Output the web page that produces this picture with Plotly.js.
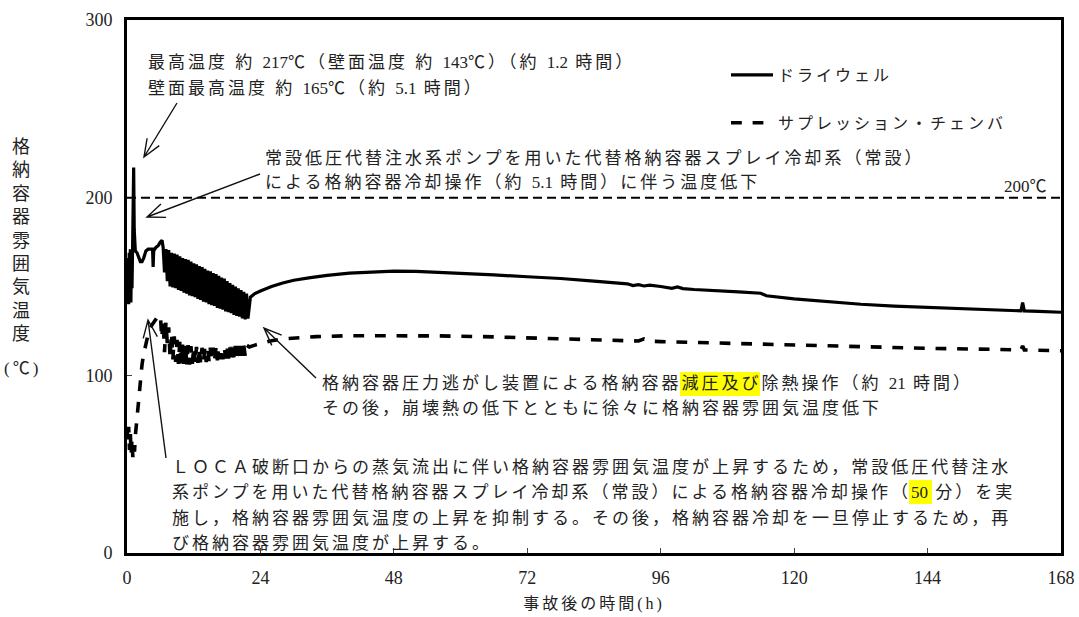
<!DOCTYPE html>
<html>
<head>
<meta charset="utf-8">
<script src="https://cdn.plot.ly/plotly-3.0.1.min.js"></script>
<style>
html,body{margin:0;padding:0;background:#fff}
#chart{width:1079px;height:617px}
.annotation-text,.legendtext,.xtitle{letter-spacing:3px}
</style>
</head>
<body>
<div id="chart"></div>
<script>

/* DATA (hours, degC) */

const dwStartT = [0,0.1,0.2,0.3,0.4,0.5,0.6,0.7,0.8,0.9,1.0,1.1,1.2,1.3,1.5,1.8,2.1,2.4,2.7,3.0,3.4,3.8,4.2,4.6,4.7,4.8,5.2,5.6,6.0,6.3]
const dwStartV = [152,141,166,140,169,144,171,141,167,149,171,190,217,182,170,169,166,164,164,166,170,171,171,171,161,170,172,173,175,176]

// drywell while the spray cycles on/off : peaks and troughs of the band
const dwPeakT = [6.5,7,7.5,8,8.5,9,9.5,10,10.5,11,11.5,12,12.5,13,13.5,14,14.5,15,15.5,16,16.5,17,17.5,18,18.5,19,19.5,20,20.5,21,21.5]
const dwPeakV = [172,171,170.5,169,168.5,168,167,166,165.5,165,164,163,162.5,161.5,161,160,159,158.5,157.5,157,156,155,154.5,153,152,151,150,149,148,147,146]
const dwLowT = [6.75,7.25,7.75,8.25,8.75,9.25,9.75,10.25,10.75,11.25,11.75,12.25,12.75,13.25,13.75,14.25,14.75,15.25,15.75,16.25,16.75,17.25,17.75,18.25,18.75,19.25,19.75,20.25,20.75,21.25]
const dwLowV = [158,153,150,149.5,149,148,147.5,146.5,146,145,144.5,144,143,142.5,141.5,141,140,139.5,139,138,137.5,137,136,135.5,135,134,133.5,133,132,131.5]

const dwLateT = [21.75,22.2,23,24,26,28,30,33,36,40,44,48,52,56,60,66,72,78,84,88,90,91,92,93,94,96,98,99,100,102,106,110,114,115,120,126,132,138,144,150,156,160.8,161.1,161.4,164,168]
const dwLateV = [132,144,146,147.5,150,152,153.5,155,156.3,157.5,158.3,158.7,158.5,158,157.5,156.5,155.5,154.5,153,152,151.5,150.5,151,150.3,150.8,150,149,149.8,148.8,148.3,147.8,147,146.2,144.8,143,141.5,140,139,138.2,137.4,136.8,136.3,141,136.3,136,135.5]

const spStartT = [0,0.15,0.3,0.45,0.6,0.75,0.9,1.05,1.2,1.35,1.5,1.8,2.1,2.4,2.7,3.0,3.4,3.8,4.2,4.6,5.0,5.5]
const spStartV = [70,63,71,58,67,56,64,54,60,57,66,76,88,98,106,112,118,123,127,129,131,133]

const spPeakT = [6,6.5,7,7.5,8,8.5,9,9.5,10,10.5,11,11.5,12,12.5,13,13.5,14,14.5,15,15.5,16,16.5,17,17.5,18,18.5,19,19.5,20,20.5,21,21.5]
const spPeakV = [134,131,130,127,124,122,120,119,118,117.5,117,116.5,116,116,115.5,115.5,115.5,115.5,115.5,115.5,115.5,115.5,115.5,116,116,116,116,116.5,116.5,116.5,117,117]
const spLowT = [6.25,6.75,7.25,7.75,8.25,8.75,9.25,9.75,10.25,10.75,11.25,11.75,12.25,12.75,13.25,13.75,14.25,14.75,15.25,15.75,16.25,16.75,17.25,17.75,18.25,18.75,19.25,19.75,20.25,20.75,21.25]
const spLowV = [121,113,118,110,109,107.5,106.5,106,105.5,106,106,106.5,106.5,107,107,107.5,107.5,108,108,108.5,108.5,109,109,109.5,109.5,110,110,110.5,110.5,111,111]

const spLateT = [22,23,24,26,28,30,34,40,48,56,64,72,80,88,92,93,94,96,104,112,120,132,144,156,160.8,161.1,161.4,168]
const spLateV = [116,117,118,119.5,120.5,121,121.8,122.3,122.5,122.2,121.8,121.2,120.5,119.8,119.3,120.5,119.2,119,118.3,117.6,116.8,115.8,115.2,114.6,114.3,116.5,114.3,113.8]

const limitTemp = 200

const seriesNames = ["ドライウェル","サプレッション・チェンバ"]

/* HELPERS */

// put peaks and troughs back in time order
function weave(pt,pv,lt,lv){
let x=[],y=[]
for(let i=0;i<pt.length;i++){
x.push(pt[i]); y.push(pv[i])
if(i<lt.length){ x.push(lt[i]); y.push(lv[i]) }
}
return {x:x,y:y}
}

// plot area is 127..1061 x 20..553 px
const L=127, R=1061, T=20, B=553
function px(X){ return (X-L)/(R-L) }
function py(Y){ return (B-Y)/(B-T) }

function arrow(x0,y0,x1,y1){
let dx=x1-x0, dy=y1-y0
let len=Math.sqrt(dx*dx+dy*dy)
dx/=len; dy/=len
let h=19, a=22*Math.PI/180
let lx=x1-h*(dx*Math.cos(a)-dy*Math.sin(a))
let ly=y1-h*(dx*Math.sin(a)+dy*Math.cos(a))
let rx=x1-h*(dx*Math.cos(a)+dy*Math.sin(a))
let ry=y1-h*(-dx*Math.sin(a)+dy*Math.cos(a))
return {
type:"path", xref:"paper", yref:"paper",
path:"M"+px(x0)+","+py(y0)+" L"+px(x1)+","+py(y1)+
" M"+px(lx)+","+py(ly)+" L"+px(x1)+","+py(y1)+" L"+px(rx)+","+py(ry),
line:{color:"#111",width:1.4}
}
}

const FONT = "Liberation Serif, Noto Sans CJK JP"

// digits are set tight, the japanese text is spaced out
function tight(s){
return s.replace(/([0-9.]+)/g,'<span style="letter-spacing:0px">$1</span>')
}

function note(text,X,Y,anchor){
return {
text:tight(text), xref:"paper", yref:"paper", x:px(X), y:py(Y),
xanchor:anchor||"left", yanchor:"middle", showarrow:false,
font:{family:FONT,size:17,color:"#222"}
}
}

/* SERIES */

const dwMid = weave(dwPeakT,dwPeakV,dwLowT,dwLowV)
const spMid = weave(spPeakT,spPeakV,spLowT,spLowV)

const dwX = dwStartT.concat(dwMid.x,dwLateT)
const dwY = dwStartV.concat(dwMid.y,dwLateV)
const spX = spStartT.concat(spMid.x,spLateT)
const spY = spStartV.concat(spMid.y,spLateV)

const traces = [
{
x:dwX, y:dwY, mode:"lines", name:seriesNames[0],
legendgroup:"a",
line:{color:"#000",width:3.2}
},
{
x:spX, y:spY, mode:"lines", name:seriesNames[1],
legendgroup:"b",
line:{color:"#000",width:3.6,dash:"dash"}
}
]

const axisCommon = {
showline:true, linewidth:3, linecolor:"#000", mirror:true,
ticks:"inside", ticklen:5, tickwidth:1, tickcolor:"#444",
showgrid:false, zeroline:false,
tickfont:{family:"Liberation Serif",size:18,color:"#222"}
}

const layout = {
width:1079, height:617,
margin:{l:L,r:1079-R,t:T,b:617-B},
paper_bgcolor:"#fff", plot_bgcolor:"#fff",
showlegend:true,
legend:{
x:px(726), y:py(58), xanchor:"left", yanchor:"top",
bgcolor:"rgba(0,0,0,0)",
traceorder:"grouped", tracegroupgap:24, itemwidth:42,
font:{family:FONT,size:16,color:"#222"}
},
xaxis:Object.assign({}, axisCommon, {
range:[0,168], tick0:0, dtick:24, ticklabelstandoff:6,
title:{text:"事故後の時間(h)", font:{family:FONT,size:16,color:"#222"}, standoff:12}
}),
yaxis:Object.assign({}, axisCommon, {
range:[0,300], tick0:0, dtick:100, ticklabelstandoff:8
}),
shapes:[
{type:"line", xref:"x", yref:"y", x0:0, x1:168, y0:limitTemp, y1:limitTemp,
line:{color:"#000",width:2,dash:"9px,5px"}},
{type:"rect", xref:"paper", yref:"paper", layer:"below",
x0:px(680), x1:px(760), y0:py(396), y1:py(372), fillcolor:"#ffff00", line:{width:0}},
{type:"rect", xref:"paper", yref:"paper", layer:"below",
x0:px(909), x1:px(932), y0:py(504), y1:py(480), fillcolor:"#ffff00", line:{width:0}},
arrow(177,103,144,157),
arrow(260,174,147,217),
arrow(316,378,264,328),
arrow(166,458,148,320)
],
annotations:[
note("最高温度 約 217℃（壁面温度 約 143℃）（約 1.2 時間）",146,62),
note("壁面最高温度 約 165℃（約 5.1 時間）",146,88),
note("常設低圧代替注水系ポンプを用いた代替格納容器スプレイ冷却系（常設）",263,158),
note("による格納容器冷却操作（約 5.1 時間）に伴う温度低下",263,183),
note("200℃",1052,186,"right"),
note("格納容器圧力逃がし装置による格納容器減圧及び除熱操作（約 21 時間）",320,384),
note("その後，崩壊熱の低下とともに徐々に格納容器雰囲気温度低下",320,409),
note("ＬＯＣＡ破断口からの蒸気流出に伴い格納容器雰囲気温度が上昇するため，常設低圧代替注水",170,467),
note("系ポンプを用いた代替格納容器スプレイ冷却系（常設）による格納容器冷却操作（50 分）を実",170,492),
note("施し，格納容器雰囲気温度の上昇を抑制する。その後，格納容器冷却を一旦停止するため，再",170,518),
note("び格納容器雰囲気温度が上昇する。",170,543),
{
text:"格<br>納<br>容<br>器<br>雰<br>囲<br>気<br>温<br>度",
xref:"paper", yref:"paper", x:px(22), y:py(240),
xanchor:"center", yanchor:"middle", showarrow:false,
font:{family:FONT,size:18,color:"#222"}
},
{
text:"(℃)", xref:"paper", yref:"paper", x:px(22), y:py(368),
xanchor:"center", yanchor:"middle", showarrow:false,
font:{family:FONT,size:17,color:"#222"}
}
]
}

Plotly.newPlot("chart",traces,layout,{staticPlot:true})

</script>
</body>
</html>
